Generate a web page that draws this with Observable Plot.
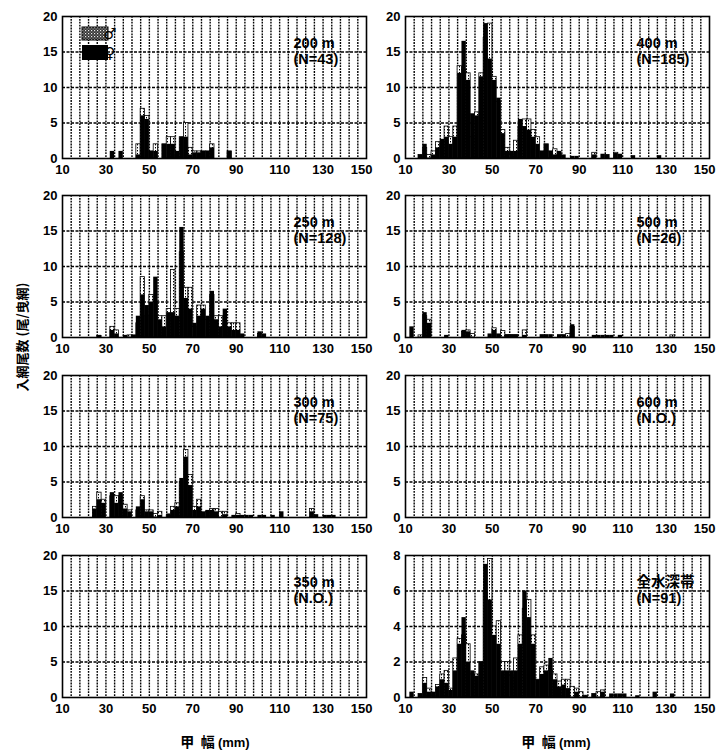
<!DOCTYPE html>
<html><head><meta charset="utf-8">
<script src="https://cdn.jsdelivr.net/npm/d3@7"></script>
<script src="https://cdn.jsdelivr.net/npm/@observablehq/plot@0.6"></script>
<style>
body{margin:0;background:#fff;width:717px;height:752px;position:relative;overflow:hidden;font-family:"Liberation Sans",Arial,sans-serif;}
.panel{position:absolute;}
.ytitle{position:absolute;left:21px;top:337px;transform:translate(-50%,-50%) rotate(-90deg);white-space:nowrap;font-family:"Noto Sans CJK JP","Liberation Sans",sans-serif;font-weight:bold;font-size:13px;color:#000;}
.xtitle{position:absolute;top:741px;transform:translate(-50%,-50%);white-space:nowrap;font-family:"Noto Sans CJK JP","Liberation Sans",sans-serif;font-weight:bold;font-size:14px;color:#000;}
.xtitle span{font-family:"Liberation Sans",Arial,sans-serif;font-size:13px;}
</style></head><body>
<svg width="0" height="0" style="position:absolute">
  <defs>
    <pattern id="maleDots" width="3" height="3" patternUnits="userSpaceOnUse">
      <rect width="3" height="3" fill="#fff"/>
      <rect x="1" y="0" width="1" height="1.4" fill="#000"/>
    </pattern>
    <pattern id="legendDots" width="3" height="3" patternUnits="userSpaceOnUse">
      <rect width="3" height="3" fill="#333"/>
      <rect x="0" y="0" width="1.2" height="1.2" fill="#eee"/>
      <rect x="1.6" y="1.6" width="1" height="1" fill="#bbb"/>
    </pattern>
  </defs>
</svg>
<div id="root"></div>
<div class="ytitle">入網尾数 (尾/曳網)</div>
<div class="xtitle" style="left:215px">甲&nbsp;&nbsp;幅 <span>(mm)</span></div>
<div class="xtitle" style="left:556px">甲&nbsp;&nbsp;幅 <span>(mm)</span></div>
<script>
// x-axis tick labels (carapace width, mm)
const xTicks = [10, 30, 50, 70, 90, 110, 130, 150];
const yTicks20 = [0, 5, 10, 15, 20];
const yTicks8 = [0, 2, 4, 6, 8];

// Each row: [class start (mm, 2 mm classes), male ♂, female ♀]  (catch per haul)
const d200 = [
  [32,0,1],[36,0,1],[44,2,0.5],[46,7,6],[48,6,5.5],[50,1,1],[52,2,1],[56,2,2],[58,3,2],[60,3,2],
  [62,0.5,1],[64,3,3],[66,5,3],[68,1.5,0.5],[70,1,0.8],[72,1,0.8],[74,1,1],[76,1,1],[78,2,1.5],[86,1,1]
];
const d400 = [
  [16,0.5,0.5],[18,1.5,2],[20,0.5,0],[22,1,0.5],[24,2.3,1.5],[26,2,2.7],[28,4.5,3],[30,3,2],[32,4.5,3],
  [34,13,12],[36,12.5,16.5],[38,12,11],[40,3,6.3],[42,6.5,6],[44,12,11.5],[46,17,19],[48,19,14],
  [50,11.5,11],[52,8,8.5],[54,4,3.5],[56,1.5,1],[58,0.5,1],[60,2.5,1],[62,4.5,5.5],[64,5.5,4.5],
  [66,5.5,4],[68,4,3],[70,3,2],[72,1,1],[74,2,2],[76,1,1],[78,1.3,0.5],[80,0.5,1],[82,0,0.5],
  [86,0,0.3],[88,0,0.3],[96,0.8,0.5],[100,0,0.6],[102,0.5,0.5],[106,0.8,0.7],[108,0,0.6],[114,0,0.4],[126,0,0.4]
];
const d250 = [
  [26,0.2,0.3],[32,1.5,1],[34,1,0.5],[38,0,0.3],[40,0.3,0],[42,0.3,0.3],[44,2,3],[46,8.5,6],[48,3,4.5],
  [50,6,5],[52,5,8.5],[54,3,2.5],[56,3,1.5],[58,4,3.5],[60,9.5,3.5],[62,4,3],[64,12,15.5],[66,7,5.5],
  [68,7,4],[70,1.5,2],[72,4.5,3],[74,4.5,4],[76,2.5,3],[78,6,6.5],[80,3,2.5],[82,3,1.5],[84,2,4],
  [86,2,1.5],[88,2,1],[90,2,1],[92,0,0.5],[100,0.5,0.8],[102,0,0.5]
];
const d500 = [
  [12,0,1.5],[16,0.3,0],[18,3,3.5],[20,2.5,2],[28,0,0.3],[36,0.8,1],[38,1,0.8],[40,0.5,0],[48,0,0.5],
  [50,1.3,1],[52,0,0.5],[54,0.9,0],[56,0.3,0.4],[58,0.3,0.4],[60,0.3,0.4],[64,1,0.3],[72,0,0.4],
  [74,0,0.4],[76,0,0.4],[80,0,0.4],[82,0,0.4],[84,0.5,0],[86,1.5,1.8],[96,0,0.3],[98,0,0.3],
  [100,0,0.3],[102,0,0.3],[104,0,0.3],[108,0,0.3],[132,0.3,0]
];
const d300 = [
  [24,1.5,1.2],[26,3.5,2.5],[28,2.5,2],[32,3,3.5],[34,3,2],[36,3,3.5],[38,1.8,1.2],[40,1,0.8],
  [44,1,1.5],[46,3,2.5],[48,1,0.8],[50,1,0.8],[52,0.5,0],[54,0.8,0.3],[58,0.3,0.5],[60,1.5,1],
  [62,2,1.5],[64,5,5.5],[66,9.5,8.5],[68,6,4.5],[70,1.5,1],[72,2.5,1.5],[74,0,0.8],[76,0.8,1],
  [78,1.2,1],[80,1.2,0.8],[82,0.8,0],[84,0.8,0.4],[88,0,0.3],[90,0.5,0.3],[92,0,0.3],[94,0,0.3],
  [96,0,0.3],[100,0,0.3],[102,0,0.3],[106,0,0.3],[110,0,0.8],[124,1.2,0.8],[126,0,0.4],
  [130,0,0.3],[132,0,0.3],[134,0,0.3]
];
const d600 = [];
const d350 = [];
const dAll = [
  [12,0,0.3],[16,0.2,0.2],[18,1.1,0.8],[20,0.5,0.3],[22,0,0.3],[24,0.7,0.6],[26,1.3,1],[28,1.5,0.8],
  [30,0.5,0.4],[32,2.2,1.5],[34,3.3,3],[36,3.5,4.5],[38,3,2],[40,1.3,1.5],[42,1.3,1.2],[44,2,2],
  [46,6,7.5],[48,7.8,5.5],[50,4,3.5],[52,4.3,3],[54,2,1.5],[56,2,1.5],[58,1.2,1.5],[60,2.2,1.5],
  [62,3.5,3],[64,5,6],[66,5.5,4.5],[68,3.5,3],[70,1,1],[72,1.7,1.3],[74,1.8,1.5],[76,1.5,2.2],
  [78,1.3,1],[80,0.9,0.6],[82,1,0.7],[84,1,0.5],[86,0.6,0],[88,0.5,0.3],[90,0.3,0],[92,0.1,0.1],
  [96,0.2,0.2],[98,0.3,0],[100,0.4,0.3],[104,0,0.2],[106,0,0.2],[108,0,0.2],[110,0,0.2],
  [116,0,0.1],[124,0,0.3],[132,0,0.2]
];

const panelLabels = ["200 m\n(N=43)", "400 m\n(N=185)", "250 m\n(N=128)", "500 m\n(N=26)",
                     "300 m\n(N=75)", "600 m\n(N.O.)", "350 m\n(N.O.)", "全水深帯\n(N=91)"];

const panels = [
  {data: d200, label: panelLabels[0], col: 0, row: 0, ymax: 20, yTicks: yTicks20, legend: true},
  {data: d400, label: panelLabels[1], col: 1, row: 0, ymax: 20, yTicks: yTicks20},
  {data: d250, label: panelLabels[2], col: 0, row: 1, ymax: 20, yTicks: yTicks20},
  {data: d500, label: panelLabels[3], col: 1, row: 1, ymax: 20, yTicks: yTicks20},
  {data: d300, label: panelLabels[4], col: 0, row: 2, ymax: 20, yTicks: yTicks20},
  {data: d600, label: panelLabels[5], col: 1, row: 2, ymax: 20, yTicks: yTicks20},
  {data: d350, label: panelLabels[6], col: 0, row: 3, ymax: 20, yTicks: yTicks20},
  {data: dAll, label: panelLabels[7], col: 1, row: 3, ymax: 8, yTicks: yTicks8}
];

const colLeft = [22, 365];
const rowTop = [6, 185, 365, 545];
const xGrid = d3.range(14, 150, 4);
const root = document.getElementById("root");

for (const p of panels) {
  const yGrid = p.yTicks.slice(1, -1);
  const chart = Plot.plot({
    width: 352, height: 176,
    marginLeft: 40, marginRight: 8, marginTop: 10, marginBottom: 24,
    style: "font-family:'Liberation Sans',Arial,sans-serif;font-size:13px;font-weight:bold;background:transparent;color:#000;overflow:visible;",
    x: {domain: [10, 150], label: null, axis: null},
    y: {domain: [0, p.ymax], ticks: p.yTicks, tickSize: 0, tickPadding: 5, label: null},
    marks: [
      Plot.ruleX(xGrid, {stroke: "#000", strokeWidth: 1.4, strokeDasharray: "1.8,1.1"}),
      Plot.ruleY(yGrid, {stroke: "#000", strokeWidth: 1.3, strokeDasharray: "3,1.5"}),
      Plot.rectY(p.data.filter(d => d[1] > 0), {x1: d => d[0], x2: d => d[0] + 2, y: d => d[1],
        fill: "url(#maleDots)", stroke: "#000", strokeWidth: 0.8}),
      Plot.rectY(p.data.filter(d => d[2] > 0), {x1: d => d[0], x2: d => d[0] + 2, y: d => d[2],
        fill: "#000"}),
      Plot.frame({stroke: "#000", strokeWidth: 1.6}),
      Plot.axisX(xTicks.slice(0, -1), {tickSize: 0, tickPadding: 6, label: null}),
      Plot.axisX(xTicks.slice(-1), {tickSize: 0, tickPadding: 6, label: null, textAnchor: "end", dx: 6}),
      Plot.text([p.label], {frameAnchor: "top-right", textAnchor: "start", lineAnchor: "top",
        dx: -73, dy: 20, fontSize: 14.5, fontWeight: "bold", lineHeight: 1.1, fill: "#000",
        fontFamily: "'Liberation Sans','Noto Sans CJK JP',sans-serif"})
    ]
  });
  chart.classList.add("panel");
  chart.style.left = colLeft[p.col] + "px";
  chart.style.top = rowTop[p.row] + "px";
  chart.style.position = "absolute";
  if (p.legend) {
    const g = d3.select(chart).append("g");
    g.append("rect").attr("x", 60).attr("y", 21).attr("width", 26).attr("height", 13)
      .attr("fill", "url(#legendDots)").attr("stroke", "#000").attr("stroke-width", 1);
    g.append("rect").attr("x", 60).attr("y", 39).attr("width", 26).attr("height", 15)
      .attr("fill", "#000");
    g.append("text").attr("x", 88).attr("y", 33).text("♂")
      .attr("font-family", "DejaVu Sans").attr("font-size", 15).attr("font-weight", "bold");
    g.append("text").attr("x", 88).attr("y", 52).text("♀")
      .attr("font-family", "DejaVu Sans").attr("font-size", 15).attr("font-weight", "bold");
  }
  root.appendChild(chart);
}
</script>
</body></html>
